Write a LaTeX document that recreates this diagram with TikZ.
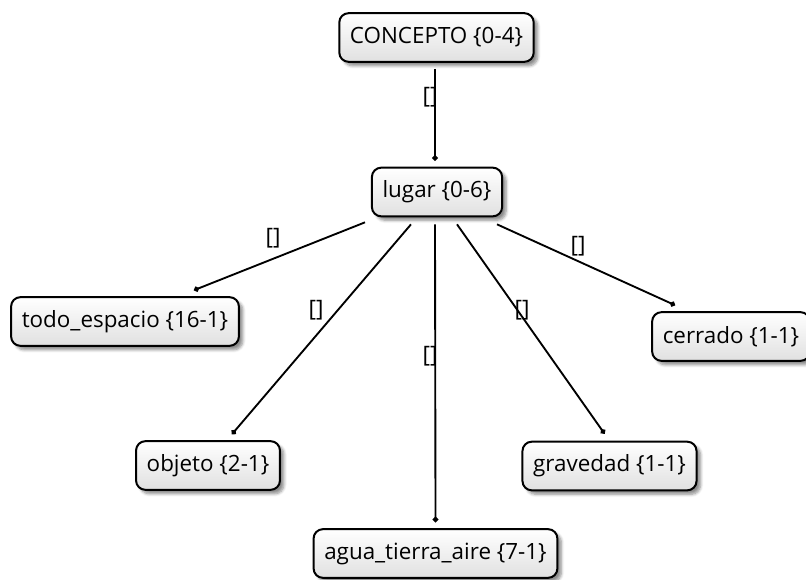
\documentclass[tikz,border=0pt]{standalone}
\usepackage{fontspec}
\setmainfont{Open Sans}
\usetikzlibrary{arrows.meta,shadows.blur}
\begin{document}
\begin{tikzpicture}[x=0.75pt,y=-0.75pt,
  concept/.style={draw=black, line width=1.5pt, rounded corners=7pt,
    top color=white, bottom color=black!12,
    blur shadow={shadow xshift=3pt, shadow yshift=-3pt, shadow opacity=45, shadow blur steps=6},
    minimum height=36.5pt, inner xsep=8pt, font=\fontsize{16.8}{19}\selectfont},
  link/.style={line width=1.4pt, -{Circle[length=4pt]}},
  lbl/.style={inner sep=0pt, font=\fontsize{17}{19}\selectfont}]
\useasboundingbox (0,0) rectangle (806,579);

% concept nodes
\node[concept] (concepto) at (436.5,37.5) {CONCEPTO \{0-4\}};
\node[concept] (lugar) at (437,192) {lugar \{0-6\}};
\node[concept] (todo) at (125,321.5) {todo\_espacio \{16-1\}};
\node[concept] (cerrado) at (731,336.5) {cerrado \{1-1\}};
\node[concept] (objeto) at (208,465.5) {objeto \{2-1\}};
\node[concept] (gravedad) at (609.5,466) {gravedad \{1-1\}};
\node[concept] (agua) at (435.5,553.5) {agua\_tierra\_aire \{7-1\}};

% links
\draw[link] ([shift={(-1.5,6)}]concepto.south) -- ([shift={(-2,-6)}]lugar.north);
\draw[link] ([shift={(-72,5)}]lugar.south) -- ([shift={(69,-6)}]todo.north);
\draw[link] ([shift={(-26,7)}]lugar.south) -- ([shift={(24,-6)}]objeto.north);
\draw[link] ([shift={(-2,7)}]lugar.south) -- ([shift={(0,-6)}]agua.north);
\draw[link] ([shift={(20,7)}]lugar.south) -- ([shift={(-5,-7)}]gravedad.north);
\draw[link] ([shift={(60,7)}]lugar.south) -- ([shift={(-56,-6)}]cerrado.north);

% link labels
\node[lbl] (l1) at (430,97) {[]};
\node[lbl] (l2) at (273,238) {[]};
\node[lbl] (l3) at (316,310) {[]};
\node[lbl] (l4) at (430,356) {[]};
\node[lbl] (l5) at (522,310) {[]};
\node[lbl] (l6) at (578,246) {[]};
\end{tikzpicture}
\end{document}
